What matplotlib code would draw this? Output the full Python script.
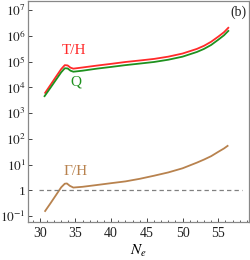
import matplotlib
matplotlib.use("Agg")
import matplotlib.pyplot as plt
from matplotlib.ticker import FixedLocator, MultipleLocator
import numpy as np

plt.rcParams['font.family'] = ['Liberation Serif', 'DejaVu Serif']
plt.rcParams['mathtext.fontset'] = 'stix'

# Data
N_TH = [30.75, 31.5, 32.3, 33.0, 33.5, 33.9, 34.3, 34.7, 36, 38, 40, 42, 44, 46, 48, 50, 52, 53, 54, 55, 55.8, 56.4]
T_over_H = [6.2e3, 1.26e4, 2.7e4, 5.2e4, 7.4e4, 7.2e4, 5.9e4, 5.4e4, 6.0e4, 7.1e4, 8.3e4, 9.8e4,
            1.12e5, 1.29e5, 1.58e5, 2.09e5, 3.16e5, 4.17e5, 6.0e5, 9.5e5, 1.41e6, 2.09e6]

N_Q = [30.67, 31.5, 32.3, 33.0, 33.5, 33.9, 34.3, 34.7, 36, 38, 40, 42, 44, 46, 48, 50, 52, 53, 54, 55, 55.8, 56.4]
Q_vals = [4.6e3, 9.8e3, 2.05e4, 3.9e4, 5.6e4, 5.5e4, 4.5e4, 4.1e4, 4.5e4, 5.4e4, 6.3e4, 7.4e4,
          8.5e4, 9.8e4, 1.2e5, 1.58e5, 2.4e5, 3.16e5, 4.5e5, 7.2e5, 1.07e6, 1.58e6]

N_G = [30.75, 31.5, 32.3, 33.0, 33.5, 33.8, 34.2, 34.7, 36, 38, 40, 42, 44, 46, 48, 50, 52, 53, 54, 55, 55.8, 56.3]
Gamma_over_H = [0.158, 0.316, 0.676, 1.32, 1.82, 1.86, 1.51, 1.29, 1.38, 1.62, 1.91, 2.24,
                2.82, 3.72, 5.0, 7.24, 12.0, 15.8, 21.4, 31.6, 42.7, 53.7]

dash_x = [29.9, 58.3]
dash_y = [1.0, 1.0]

ytick_vals = [1e-1, 1, 1e1, 1e2, 1e3, 1e4, 1e5, 1e6, 1e7]
ytick_labels = ['$10^{-1}$', '1', '$10^{1}$', '$10^{2}$', '$10^{3}$', '$10^{4}$', '$10^{5}$', '$10^{6}$', '$10^{7}$']
xtick_vals = [30, 35, 40, 45, 50, 55]

red = '#ff2a2a'
green = '#1e911e'
brown = '#b8824e'

fig = plt.figure(figsize=(2.5, 2.6), dpi=100)
ax = fig.add_axes([0.112, 0.146, 0.884, 0.85])

ax.plot(N_TH, T_over_H, color=red, lw=1.3)
ax.plot(N_Q, Q_vals, color=green, lw=1.3)
ax.plot(N_G, Gamma_over_H, color=brown, lw=1.3)
ax.plot(dash_x, dash_y, color='#808080', lw=0.9, ls=(0, (3.5, 2.5)))

ax.set_yscale('log')
ax.set_xlim(28.35, 59.3)
ax.set_ylim(10**-1.23, 10**7.36)

ax.set_yticks(ytick_vals)
ax.set_yticklabels(ytick_labels)
ax.yaxis.set_minor_locator(FixedLocator([]))
ax.set_xticks(xtick_vals)
ax.xaxis.set_minor_locator(MultipleLocator(1))

ax.tick_params(which='both', direction='in', top=False, right=False, labelsize=10, colors='#444444', labelcolor='#222222')
ax.tick_params(axis='y', pad=1.5, labelsize=9.5)
ax.tick_params(which='major', length=3, width=0.7)
ax.tick_params(which='minor', length=1.8, width=0.6)
for s in ax.spines.values():
    s.set_color('#888888')
    s.set_linewidth(0.9)

ax.set_xlabel('$N_e$', fontsize=11, labelpad=2)

ax.text(34.8, 10**5.45, 'T/H', color=red, fontsize=11, ha='center', va='center')
ax.text(35.1, 10**4.2, 'Q', color=green, fontsize=11, ha='center', va='center')
ax.text(34.95, 10**0.73, 'Γ/H', color=brown, fontsize=11, ha='center', va='center')
ax.text(59.0, 10**6.93, '(b)', color='#222222', fontsize=10, ha='right', va='center')

fig.savefig('out.png', dpi=100)
